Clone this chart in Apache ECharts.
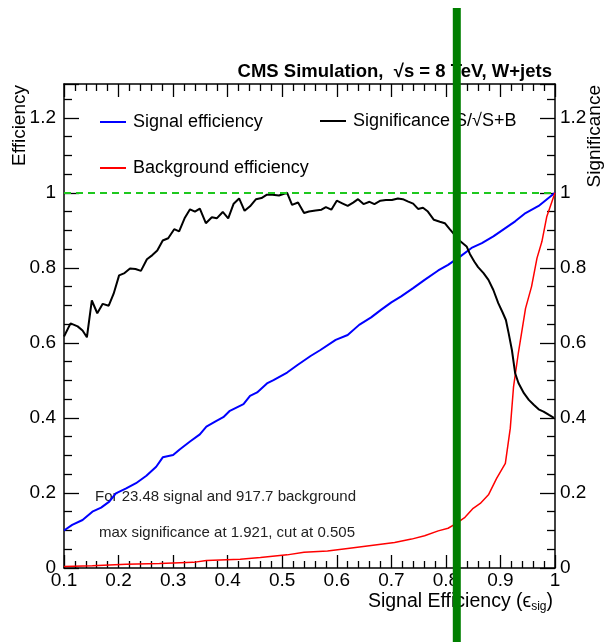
<!DOCTYPE html>
<html><head><meta charset="utf-8">
<script src="https://cdn.jsdelivr.net/npm/echarts@6/dist/echarts.min.js"></script>
<style>html,body{margin:0;padding:0;background:#fff;}#c{width:607px;height:642px;}</style>
</head><body><div id="c"></div>
<script>
// ---- data ----
const significanceX = [0.100,0.112,0.125,0.134,0.142,0.151,0.161,0.171,0.182,0.191,
  0.201,0.211,0.221,0.231,0.241,0.252,0.262,0.271,0.281,0.291,
  0.302,0.311,0.321,0.331,0.340,0.349,0.360,0.371,0.380,0.391,
  0.401,0.411,0.421,0.431,0.441,0.452,0.462,0.472,0.482,0.494,
  0.502,0.509,0.518,0.529,0.540,0.549,0.561,0.572,0.580,0.590,
  0.600,0.610,0.620,0.630,0.639,0.649,0.660,0.669,0.680,0.690,
  0.701,0.712,0.721,0.730,0.740,0.749,0.758,0.767,0.778,0.789,
  0.798,0.807,0.816,0.827,0.838,0.844,0.852,0.859,0.869,0.878,
  0.887,0.896,0.904,0.910,0.915,0.921,0.927,0.933,0.943,0.952,
  0.961,0.970,0.979,0.989,0.998];
const significanceY = [0.617,0.652,0.644,0.633,0.615,0.713,0.679,0.704,0.699,0.731,
  0.780,0.786,0.798,0.797,0.792,0.823,0.834,0.846,0.873,0.879,
  0.903,0.897,0.932,0.956,0.950,0.958,0.919,0.935,0.932,0.949,
  0.932,0.971,0.985,0.952,0.964,0.983,0.986,0.995,0.995,0.993,
  0.997,1.000,0.968,0.974,0.946,0.950,0.953,0.955,0.962,0.955,
  0.979,0.972,0.965,0.974,0.983,0.970,0.976,0.970,0.979,0.981,
  0.981,0.985,0.983,0.977,0.971,0.957,0.960,0.950,0.928,0.923,
  0.919,0.903,0.888,0.870,0.857,0.837,0.817,0.802,0.786,0.768,
  0.741,0.706,0.681,0.661,0.626,0.581,0.519,0.493,0.466,0.448,
  0.435,0.423,0.417,0.408,0.400];
const signalX = [0.100,0.115,0.134,0.152,0.168,0.183,0.195,0.214,0.232,0.251,
  0.269,0.281,0.300,0.312,0.331,0.349,0.361,0.377,0.392,0.404,
  0.429,0.441,0.454,0.472,0.484,0.509,0.528,0.552,0.570,0.598,
  0.620,0.641,0.663,0.681,0.700,0.718,0.740,0.761,0.786,0.804,
  0.826,0.847,0.866,0.887,0.909,0.927,0.946,0.970,1.000];
const signalY = [0.100,0.115,0.128,0.150,0.161,0.177,0.199,0.212,0.226,0.246,
  0.270,0.295,0.301,0.316,0.337,0.356,0.377,0.390,0.402,0.419,
  0.437,0.459,0.468,0.492,0.501,0.521,0.541,0.565,0.581,0.608,
  0.621,0.648,0.668,0.688,0.708,0.724,0.746,0.768,0.793,0.808,
  0.830,0.853,0.866,0.884,0.906,0.924,0.946,0.965,1.000];
const backgroundX = [0.100,0.152,0.214,0.275,0.337,0.361,0.423,0.460,0.509,0.540,
  0.583,0.620,0.663,0.706,0.737,0.761,0.786,0.804,0.817,0.835,
  0.850,0.863,0.878,0.893,0.909,0.918,0.924,0.933,0.946,0.957,
  0.967,0.976,0.985,1.000];
const backgroundY = [0.004,0.006,0.010,0.012,0.015,0.020,0.023,0.028,0.035,0.042,
  0.045,0.052,0.060,0.068,0.077,0.086,0.099,0.106,0.117,0.135,
  0.159,0.172,0.195,0.239,0.279,0.372,0.483,0.575,0.692,0.750,
  0.826,0.870,0.937,1.000];
const cutValue = 0.82;
const referenceLevel = 1;
const seriesNames = ['Signal efficiency', 'Background efficiency', 'Significance S/\u221AS+B'];
const titleText = 'CMS Simulation,  \u221As = 8 TeV, W+jets';
const infoLines = ['For 23.48 signal and 917.7 background', 'max significance at 1.921, cut at 0.505'];
const axisTitles = { left: 'Efficiency', right: 'Significance', bottom: 'Signal Efficiency (\u03F5{sub|sig})' };

// ---- chart ----
const FONT = '"Liberation Sans", Arial, Helvetica, sans-serif';
const pairs = (xs, ys) => xs.map((x, i) => [x, ys[i]]);
const yFmt = v => (Math.abs(v / 0.2 - Math.round(v / 0.2)) < 1e-6 ? String(+v.toFixed(2)) : '');
const axisLine = { show: true, onZero: false, lineStyle: { color: '#000', width: 1.5 } };
const tickStyle = { color: '#000', width: 1.3 };

function xAxisCfg(pos, showLabel) {
  return {
    type: 'value', position: pos, min: 0.1, max: 1.0, interval: 0.1,
    axisLine, splitLine: { show: false },
    axisTick: { show: true, inside: true, length: 13, lineStyle: tickStyle },
    minorTick: { show: true, splitNumber: 5, length: 7, lineStyle: tickStyle },
    axisLabel: { show: showLabel, margin: 3, color: '#000', fontSize: 19, fontFamily: FONT }
  };
}
function yAxisCfg(pos, margin) {
  return {
    type: 'value', position: pos, min: 0, max: 1.29, interval: 0.2,
    axisLine, splitLine: { show: false },
    axisTick: { show: true, inside: true, length: 15, lineStyle: tickStyle },
    minorTick: { show: true, splitNumber: 4, length: 8, lineStyle: tickStyle },
    axisLabel: { show: true, margin, color: '#000', fontSize: 19, fontFamily: FONT, formatter: yFmt }
  };
}
function legendCfg(name, left, top) {
  return {
    data: [{ name, icon: 'rect' }], left, top, orient: 'horizontal', selectedMode: false,
    padding: 0, itemWidth: 26, itemHeight: 2, itemGap: 0,
    textStyle: { fontSize: 18, fontFamily: FONT, color: '#000', padding: [0, 0, 0, 2] }
  };
}

const chart = echarts.init(document.getElementById('c'), null, { renderer: 'canvas' });
chart.setOption({
  animation: false,
  backgroundColor: '#fff',
  grid: { left: 64, right: 52, top: 84, bottom: 74, containLabel: false, outerBoundsMode: 'none' },
  xAxis: [xAxisCfg('bottom', true), xAxisCfg('top', false)],
  yAxis: [yAxisCfg('left', 8), yAxisCfg('right', 5)],
  legend: [
    legendCfg(seriesNames[0], 100, 113),
    legendCfg(seriesNames[1], 100, 159),
    legendCfg(seriesNames[2], 320, 112)
  ],
  series: [
    {
      name: seriesNames[0], type: 'line', data: pairs(signalX, signalY), symbol: 'none',
      color: '#0000ff', lineStyle: { color: '#0000ff', width: 2 }, z: 3,
      markLine: {
        silent: true, symbol: 'none', animation: false,
        label: { show: false },
        lineStyle: { color: '#1ec81e', width: 2, type: [7, 5] },
        data: [{ yAxis: referenceLevel }]
      }
    },
    {
      name: seriesNames[1], type: 'line', data: pairs(backgroundX, backgroundY), symbol: 'none',
      color: '#ff0000', lineStyle: { color: '#ff0000', width: 1.5 }, z: 3
    },
    {
      name: seriesNames[2], type: 'line', yAxisIndex: 1, data: pairs(significanceX, significanceY), symbol: 'none',
      color: '#000000', lineStyle: { color: '#000000', width: 2 }, z: 4
    }
  ],
  graphic: [
    { id: 'title', type: 'text', x: 552, y: 72, style: { text: titleText, fontSize: 18.5, fontWeight: 'bold', fontFamily: FONT, fill: '#000', align: 'right', verticalAlign: 'middle' } },
    { id: 'info1', type: 'text', x: 95, y: 497, style: { text: infoLines[0], fontSize: 15, fontFamily: FONT, fill: '#222', align: 'left', verticalAlign: 'middle' } },
    { id: 'info2', type: 'text', x: 99, y: 533, style: { text: infoLines[1], fontSize: 15, fontFamily: FONT, fill: '#222', align: 'left', verticalAlign: 'middle' } },
    { id: 'ytl', type: 'text', x: 20, y: 85, rotation: Math.PI / 2, style: { text: axisTitles.left, fontSize: 19, fontFamily: FONT, fill: '#000', align: 'right', verticalAlign: 'middle' } },
    { id: 'ytr', type: 'text', x: 595, y: 85, rotation: Math.PI / 2, style: { text: axisTitles.right, fontSize: 19, fontFamily: FONT, fill: '#000', align: 'right', verticalAlign: 'middle' } },
    { id: 'xt', type: 'text', x: 553, y: 602, style: {
        text: axisTitles.bottom, fontSize: 19.5, fontFamily: FONT, fill: '#000', align: 'right', verticalAlign: 'middle',
        rich: { sub: { fontSize: 12, fontFamily: FONT, fill: '#000', verticalAlign: 'bottom', padding: [9, 0, 0, 0] } }
    } }
  ]
});

// thick cut marker, placed through the x axis scale
const cutPx = chart.convertToPixel({ xAxisIndex: 0 }, cutValue);
chart.setOption({
  graphic: [
    { id: 'cut', type: 'line', z: 100, shape: { x1: cutPx, y1: 8, x2: cutPx, y2: 642 }, style: { stroke: '#007f00', lineWidth: 8 } }
  ]
});
</script></body></html>
